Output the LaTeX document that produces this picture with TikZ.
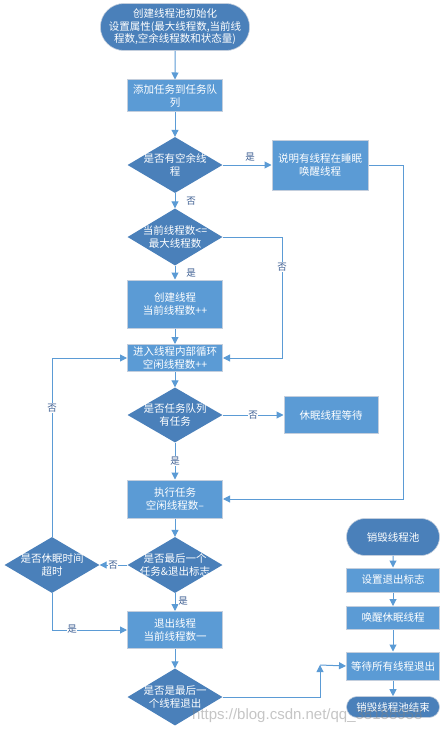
\documentclass[tikz,border=0pt]{standalone}
\usepackage{fontspec}
\newfontfamily\cjk{Noto Sans CJK SC}
\usetikzlibrary{shapes.geometric,shapes.misc,arrows.meta}
\definecolor{boxfill}{HTML}{5B9BD5}
\definecolor{boxborder}{HTML}{C3CEDD}
\definecolor{darkfill}{HTML}{4A80BA}
\definecolor{linec}{HTML}{5B9BD5}
\definecolor{labc}{HTML}{3E5F93}
\begin{document}
\begin{tikzpicture}[x=1pt,y=1pt,
  every node/.style={font=\cjk\fontsize{10.5}{12.5}\selectfont},
  box/.style={draw=boxborder, line width=1pt, fill=boxfill, text=white, align=center, inner sep=0pt},
  dia/.style={diamond, fill=darkfill, inner sep=0pt, minimum width=95pt, minimum height=56pt},
  dtext/.style={text=white, align=center, inner sep=0pt},
  stad/.style={rounded rectangle, fill=darkfill, draw=boxborder, line width=0.6pt, text=white, align=center, inner sep=0pt},
  arr/.style={draw=linec, line width=1pt, -{Triangle[width=7pt,length=7pt]}},
  ln/.style={draw=linec, line width=1pt},
  lab/.style={text=labc, fill=white, inner sep=0.5pt, font=\cjk\fontsize{9.5}{10}\selectfont}
]
\useasboundingbox (0,0) rectangle (446,-733);
\fill[white] (0,0) rectangle (446,-733);

% main column
\node[stad, minimum width=136pt, minimum height=47pt] (start) at (175,-27) {创建线程池初始化\\设置属性(最大线程数,当前线\\程数,空余线程数和状态量)};
\node[box, minimum width=95pt, minimum height=32pt] (add) at (175,-96) {添加任务到任务队\\列};
\node[dia] (d1) at (175,-165) {};
\node[dtext] (d1t) at (d1.center) {是否有空余线\\程};
\node[box, minimum width=96pt, minimum height=50pt] (wake) at (320,-165) {说明有线程在睡眠\\唤醒线程};
\node[dia, minimum height=57pt] (d2) at (175,-237) {};
\node[dtext] (d2t) at (d2.center) {当前线程数<=\\最大线程数};
\node[box, minimum width=95pt, minimum height=48pt] (create) at (175,-304) {创建线程\\当前线程数++};
\node[box, minimum width=95pt, minimum height=27pt] (enter) at (175,-358) {进入线程内部循环\\空闲线程数++};
\node[dia, minimum height=55pt] (d3) at (175,-415) {};
\node[dtext] (d3t) at (d3.center) {是否任务队列\\有任务};
\node[box, minimum width=94pt, minimum height=37pt] (sleep) at (331,-415) {休眠线程等待};
\node[box, minimum width=95pt, minimum height=38pt] (exec) at (175,-499) {执行任务\\空闲线程数–};
\node[dia] (d4) at (175,-565) {};
\node[dtext] (d4t) at (d4.center) {是否最后一个\\任务\&退出标志};
\node[dia] (d5) at (52,-565) {};
\node[dtext] (d5t) at (d5.center) {是否休眠时间\\超时};
\node[box, minimum width=95pt, minimum height=37pt] (exit) at (175,-630) {退出线程\\当前线程数一};
\node[dia, minimum height=57pt] (d6) at (175,-697) {};
\node[dtext] (d6t) at (d6.center) {是否是最后一\\个线程退出};

% right column
\node[stad, minimum width=93pt, minimum height=37pt] (destroy) at (393,-537) {销毁线程池};
\node[box, minimum width=93pt, minimum height=24pt] (setflag) at (393,-580) {设置退出标志};
\node[box, minimum width=93pt, minimum height=23pt] (wakeall) at (393,-618) {唤醒休眠线程};
\node[box, minimum width=93pt, minimum height=28pt] (waitall) at (393,-666) {等待所有线程退出};
\node[stad, minimum width=93pt, minimum height=21pt] (endn) at (393,-707) {销毁线程池结束};

\coordinate (r1) at (403,-165);
\coordinate (r2) at (282,-237);
\coordinate (c1) at (320,-665);

% connectors
\draw[arr] (start) -- (add);
\draw[arr] (add) -- (d1);
\draw[arr] (d1.east) -- (wake.west);
\node[lab] (l1) at (250,-157) {是};
\draw[arr] (d1.south) -- (d2.north);
\node[lab] (l2) at (191,-201) {否};
\draw[arr] (d2.south) -- (create.north);
\node[lab] (l3) at (191,-273) {是};
\draw[arr] (d2.east) -- (r2) |- (enter.east);
\node[lab] (l4) at (282,-267) {否};
\draw[arr] (create) -- (enter);
\draw[arr] (enter) -- (d3);
\draw[arr] (d3.east) -- (sleep.west);
\node[lab] (l5) at (253,-415) {否};
\draw[arr] (d3.south) -- (exec.north);
\node[lab] (l6) at (175,-461) {是};
\draw[arr] (wake.east) -- (r1) |- (exec.east);
\draw[arr] (exec) -- (d4);
\draw[arr] (d4.west) -- (d5.east);
\node[lab] (l7) at (113,-565) {否};
\draw[arr] (d5.north) |- (enter.west);
\node[lab] (l8) at (52,-408) {否};
\draw[arr] (d5.south) |- (exit.west);
\node[lab] (l9) at (72,-629) {是};
\draw[arr] (d4.south) -- (exit.north);
\node[lab] (l10) at (183,-601) {是};
\draw[arr] (exit) -- (d6);
\draw[arr] (d6.east) -| (c1);
\draw[arr] (c1) -- (waitall.west);
\draw[arr] (destroy) -- (setflag);
\draw[arr] (setflag) -- (wakeall);
\draw[arr] (wakeall) -- (waitall);
\draw[arr] (waitall) -- (endn);

% watermark
\node[text=gray, opacity=0.45, font=\fontspec{Liberation Sans}\fontsize{15}{16}\selectfont, anchor=west, inner sep=0pt] (wm) at (192,-716) {https://blog.csdn.net/qq\_38188958};
\end{tikzpicture}
\end{document}
